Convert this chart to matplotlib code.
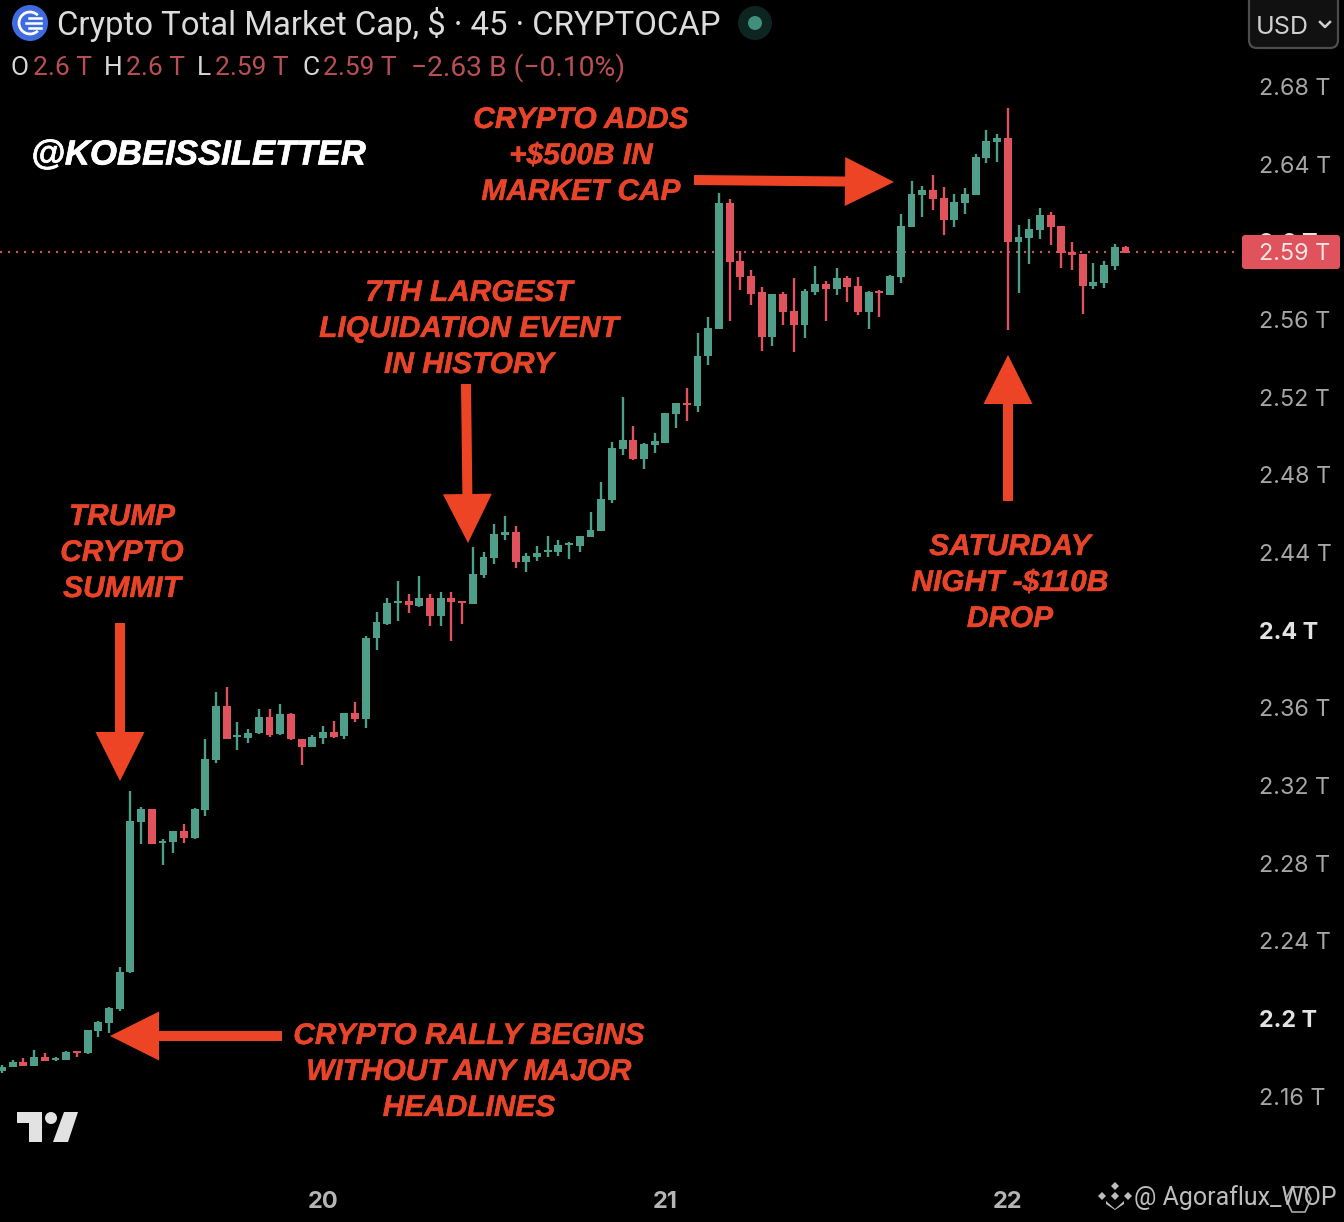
#Crypto total market cap, 45 min candles
import matplotlib
matplotlib.use('Agg')
import matplotlib.pyplot as plt
import matplotlib.patheffects as pe
from matplotlib.patches import Arc, Circle, FancyArrow, FancyBboxPatch, Polygon

# candles in $B, index 0 is the leftmost candle
opens = [2173.4,2175.5,2177.9,2176.0,2180.3,2179.1,2179.1,2183.5,2182.4,2194.0,
         2198.1,2205.0,2224.1,2301.6,2308.0,2290.5,2291.2,2296.8,2293.2,2307.8,
         2333.2,2361.2,2345.2,2344.9,2347.2,2355.5,2346.8,2357.1,2344.4,2340.3,
         2344.7,2347.8,2345.8,2357.6,2354.5,2396.4,2403.6,2414.1,2415.3,2412.9,
         2416.8,2407.6,2416.8,2415.3,2413.9,2428.7,2437.4,2449.3,2450.7,2435.4,
         2437.9,2440.5,2440.5,2444.1,2443.6,2448.2,2451.3,2467.3,2493.6,2498.2,
         2488.4,2495.8,2496.7,2511.6,2517.3,2515.7,2541.5,2555.4,2620.3,2590.4,
         2582.7,2574.4,2551.2,2573.4,2564.6,2557.4,2574.4,2578.5,2576.0,2581.6,
         2577.5,2564.1,2574.9,2572.9,2582.1,2607.9,2624.4,2626.9,2622.8,2611.5,
         2620.3,2624.4,2643.4,2651.7,2653.7,2600.2,2602.2,2606.3,2614.1,2608.4,
         2595.0,2594.0,2577.5,2579.1,2587.8,2597.6]
highs = [2176.3,2178.9,2179.8,2184.0,2182.4,2180.3,2183.7,2183.5,2194.3,2199.1,
         2206.3,2226.6,2317.4,2309.3,2308.0,2292.9,2296.7,2300.4,2308.5,2344.1,
         2368.4,2370.8,2353.0,2349.2,2359.7,2359.7,2362.2,2357.4,2344.4,2346.3,
         2350.9,2353.3,2357.6,2363.3,2397.3,2409.6,2416.8,2425.6,2418.9,2428.2,
         2418.7,2419.9,2419.9,2415.3,2443.1,2440.5,2454.9,2459.1,2453.9,2439.9,
         2443.6,2448.8,2446.7,2445.7,2448.8,2461.1,2476.6,2497.2,2520.3,2505.4,
         2496.5,2501.8,2512.1,2517.3,2525.0,2553.3,2561.5,2625.4,2622.3,2595.5,
         2585.7,2577.0,2573.4,2574.4,2581.6,2576.0,2587.8,2580.1,2586.8,2582.7,
         2582.1,2574.9,2575.4,2583.2,2614.6,2631.6,2629.0,2634.7,2628.5,2624.9,
         2628.0,2645.5,2657.8,2655.8,2669.2,2608.9,2612.0,2617.7,2615.6,2608.4,
         2600.2,2594.0,2589.4,2590.4,2599.1,2598.1]
lows = [2172.1,2175.1,2176.0,2175.8,2178.4,2178.5,2178.9,2180.6,2182.0,2190.6,
        2193.0,2204.3,2223.5,2290.1,2290.3,2279.3,2285.3,2290.8,2292.6,2304.7,
        2331.7,2344.4,2338.5,2342.3,2346.8,2345.4,2346.1,2343.7,2330.7,2340.1,
        2341.6,2344.7,2344.2,2352.8,2349.9,2390.0,2402.9,2405.0,2409.0,2412.2,
        2402.4,2402.4,2394.7,2403.4,2413.7,2427.1,2434.3,2446.7,2432.3,2430.2,
        2435.9,2437.9,2438.5,2436.9,2440.5,2448.1,2451.3,2465.8,2490.5,2487.9,
        2483.3,2491.3,2496.7,2504.4,2507.8,2512.6,2536.8,2555.4,2559.5,2575.4,
        2567.7,2544.0,2546.6,2557.4,2543.5,2550.7,2572.9,2559.5,2572.9,2569.3,
        2562.6,2555.4,2561.5,2572.9,2579.1,2607.9,2613.0,2616.6,2603.8,2607.9,
        2614.6,2624.4,2640.9,2641.4,2554.8,2573.9,2588.8,2601.7,2598.6,2586.8,
        2585.7,2563.1,2576.0,2576.5,2585.7,2594.5]
closes = [2175.5,2177.9,2176.0,2180.3,2178.5,2179.8,2183.0,2182.7,2194.3,2198.6,
          2205.5,2224.4,2301.8,2308.2,2290.3,2291.8,2296.7,2293.2,2308.2,2333.8,
          2361.2,2344.4,2346.3,2347.5,2355.4,2346.3,2357.1,2344.2,2340.3,2345.2,
          2347.8,2345.4,2357.6,2354.5,2396.4,2404.5,2414.3,2415.1,2413.2,2416.8,
          2407.6,2416.8,2414.8,2414.1,2429.2,2437.9,2449.8,2450.8,2435.4,2438.5,
          2440.0,2441.5,2444.1,2445.0,2448.8,2451.8,2467.8,2494.1,2498.2,2488.3,
          2496.1,2497.7,2512.1,2517.3,2516.1,2541.5,2555.9,2620.3,2589.9,2582.1,
          2573.4,2551.2,2573.4,2564.1,2557.4,2574.9,2578.5,2576.0,2581.6,2577.0,
          2564.1,2574.4,2573.9,2582.7,2608.4,2624.9,2626.9,2622.3,2611.5,2620.8,
          2624.9,2643.9,2652.2,2653.7,2600.2,2602.7,2606.9,2614.1,2607.9,2594.5,
          2593.5,2577.5,2579.6,2588.3,2597.6,2594.5]

y_ticks = [2680,2640,2600,2560,2520,2480,2440,2400,2360,2320,2280,2240,2200,2160]
y_labels = ['2.68 T','2.64 T','2.6 T','2.56 T','2.52 T','2.48 T','2.44 T','2.4 T',
            '2.36 T','2.32 T','2.28 T','2.24 T','2.2 T','2.16 T']
bold_labels = ['2.6 T','2.4 T','2.2 T']
day_pos = [30,62,94]
day_labels = ['20','21','22']
last_price = 2595

GREEN = '#4f9e8a'
RED = '#e0535c'
ARROW = '#ee4426'
ANNOT = '#e8442a'
SANS = ['Inter','DejaVu Sans']
HEAD = ['Roboto','DejaVu Sans']

fig = plt.figure(figsize=(13.44,12.22), dpi=100, facecolor='black')

# price axes fill the whole picture
ax = fig.add_axes([0,0,1,1], facecolor='black')
ax.set_xlim(-0.19,125.42)
ax.set_ylim(2095.5,2724.8)
ax.axis('off')

ax.axhline(last_price, xmax=1240/1344, color='#c45a60', lw=1.5, ls=(0,(1,2.84)), zorder=1)

for i in range(len(opens)):
    c = GREEN if closes[i] >= opens[i] else RED
    ax.vlines(i, lows[i], highs[i], color=c, lw=1.7, zorder=2)
    ax.bar(i, abs(closes[i]-opens[i]), bottom=min(opens[i],closes[i]), width=0.74, color=c, zorder=3)

# overlay in pixels for the furniture
ov = fig.add_axes([0,0,1,1], facecolor='none')
ov.set_xlim(0,1344)
ov.set_ylim(1222,0)
ov.axis('off')

tr = ax.get_yaxis_transform()
for v, s in zip(y_ticks, y_labels):
    bold = s in bold_labels
    ax.text(1259/1344, v-1, s, transform=tr, color='#e3e3e3' if bold else '#a6a6a6', fontsize=16.8,
            family=SANS, fontweight='bold' if bold else 'normal', ha='left', va='center', zorder=4)

ov.add_patch(FancyBboxPatch((1242,235), 98, 34, boxstyle='round,pad=0,rounding_size=3', fc=RED, ec='none', zorder=5))
ov.text(1259,254,'2.59 T', color='#f7e6e6', fontsize=16.8, family=SANS, va='center', zorder=6)

tr2 = ax.get_xaxis_transform()
for p, s in zip(day_pos, day_labels):
    ax.text(p, 1-1202/1222, s, transform=tr2, color='#b5b5b5', fontsize=17, family=SANS,
            fontweight='bold', ha='center', va='center')

# header
ov.add_patch(Circle((30,23), 18, fc='#3f6be0', ec='none'))
ov.add_patch(Arc((30,23), 22, 22, theta1=45, theta2=315, color='white', lw=2))
for dy, x0 in zip([-5,0,5],[29,26,29]):
    ov.plot([x0,41],[23+dy,23+dy], color='white', lw=1.8)
ov.add_patch(Circle((755,23), 17, fc='#0e2420', ec='none'))
ov.add_patch(Circle((755,23), 7, fc='#3f8f7c', ec='none'))
ov.text(57,25,'Crypto Total Market Cap, $ · 45 · CRYPTOCAP', color='#dcdcdc', fontsize=23.65, family=HEAD, va='center')

ohlc_x = [11,33,104,126,197,215,302,323]
ohlc_t = ['O','2.6 T','H','2.6 T','L','2.59 T','C','2.59 T']
for x, t in zip(ohlc_x, ohlc_t):
    col = '#d6d6d6' if t in 'OHLC' else '#b84f55'
    ov.text(x,68,t,color=col,fontsize=19,family=HEAD,va='center')
ov.text(411,68,'−2.63 B (−0.10%)',color='#b84f55',fontsize=20.3,family=HEAD,va='center')

ov.add_patch(FancyBboxPatch((1249,-8), 89, 56, boxstyle='round,pad=0,rounding_size=8', fc='#111111', ec='#4d4d4d', lw=1.6))
ov.text(1256,27,'USD',color='#d0d0d0',fontsize=18,family=SANS,va='center')
ov.plot([1320,1325,1330],[22,27,22],color='#d0d0d0',lw=1.8)

ov.text(31,155,'@KOBEISSILETTER',color='white',fontsize=25,family='Liberation Sans',
        fontweight='bold',fontstyle='italic',va='center',
        path_effects=[pe.withStroke(linewidth=0.5,foreground='white')])

# annotations, each line centred
notes = [(581,[120,156,192],['CRYPTO ADDS','+$500B IN','MARKET CAP']),
         (469,[293,329,365],['7TH LARGEST','LIQUIDATION EVENT','IN HISTORY']),
         (122,[517,553,589],['TRUMP','CRYPTO','SUMMIT']),
         (1010,[547,583,619],['SATURDAY','NIGHT -$110B','DROP']),
         (469,[1036,1072,1108],['CRYPTO RALLY BEGINS','WITHOUT ANY MAJOR','HEADLINES'])]
for cx, ys, lines in notes:
    for y, s in zip(ys, lines):
        ov.text(cx,y,s,color=ANNOT,fontsize=21.5,family='Liberation Sans',fontweight='bold',
                fontstyle='italic',ha='center',va='center',
                path_effects=[pe.withStroke(linewidth=0.3,foreground=ANNOT)])

arrows = [(120,623,0,158),(282,1036,-172,0),(466,384,2,159),(694,180,200,2),(1008,501,0,-146)]
for x, y, dx, dy in arrows:
    ov.add_patch(FancyArrow(x,y,dx,dy,width=10,head_width=49,head_length=49,
                            length_includes_head=True,fc=ARROW,ec='none',zorder=7))

# tradingview logo
LOGO = '#e2e2e2'
ov.add_patch(Polygon([(17,1112),(42,1112),(42,1142),(29,1142),(29,1123),(17,1123)],fc=LOGO,ec='none'))
ov.add_patch(Circle((51,1118),6,fc=LOGO,ec='none'))
ov.add_patch(Polygon([(64,1112),(78,1112),(68,1142),(53,1142)],fc=LOGO,ec='none'))

# watermark
for cx, cy in [(1115,1186),(1102,1196),(1128,1196)]:
    ov.add_patch(Polygon([(cx-4,cy),(cx,cy-4),(cx+4,cy),(cx,cy+4)],fc='#bdbdbd',ec='none'))
ov.add_patch(Polygon([(1115,1192),(1119,1196),(1115,1200),(1111,1196)],fc='#bdbdbd',ec='none'))
ov.add_patch(Polygon([(1106,1201),(1115,1209),(1124,1201),(1124,1204),(1115,1210),(1106,1204)],fc='#bdbdbd',ec='none'))
ov.text(1134,1198,'@ Agoraflux_WOP',color='#bdbdbd',fontsize=18,family=HEAD,va='center')
ov.add_patch(Polygon([(1292,1187),(1305,1187),(1311,1199),(1305,1212),(1292,1212),(1286,1199)],fc='none',ec='#a8a8a8',lw=1.2))

fig.savefig('out.png', dpi=100, facecolor='black')
